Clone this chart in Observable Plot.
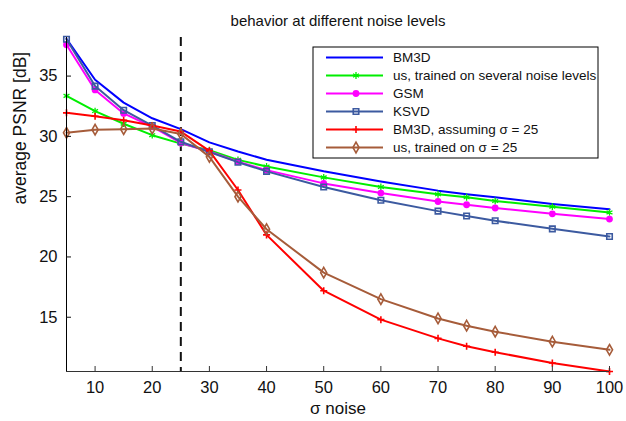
<!DOCTYPE html>
<html>
<head>
<meta charset="utf-8">
<script src="https://cdn.jsdelivr.net/npm/d3@7"></script>
<script src="https://cdn.jsdelivr.net/npm/@observablehq/plot@0.6"></script>
<style>
  html, body { margin: 0; padding: 0; background: #fff; }
  #wrap { position: relative; width: 626px; height: 421px; font-family: "Liberation Sans", Arial, sans-serif; }
  #legend { position: absolute; left: 0; top: 0; }
</style>
</head>
<body>
<div id="wrap"></div>
<script>
const sigma = [5, 10, 15, 20, 25, 30, 35, 40, 50, 60, 70, 75, 80, 90, 100];
const bm3d  = [38.1, 34.7, 32.8, 31.5, 30.6, 29.5, 28.75, 28.06, 27.1, 26.25, 25.5, 25.2, 24.95, 24.4, 23.95];
const usSeveral = [33.36, 32.1, 31.05, 30.1, 29.4, 28.85, 28.05, 27.5, 26.6, 25.8, 25.2, 24.95, 24.64, 24.17, 23.69];
const gsm   = [37.6, 33.85, 31.9, 30.8, 29.45, 28.75, 27.9, 27.2, 26.1, 25.3, 24.6, 24.33, 24.06, 23.58, 23.14];
const ksvd  = [38.06, 34.17, 32.17, 30.9, 29.55, 28.7, 27.86, 27.1, 25.8, 24.7, 23.8, 23.4, 23.0, 22.33, 21.7];
const bm3d25 = [31.95, 31.67, 31.33, 30.9, 30.4, 28.8, 25.55, 21.83, 17.2, 14.8, 13.25, 12.6, 12.1, 11.2, 10.5];
const us25  = [30.3, 30.55, 30.6, 30.65, 30.2, 28.3, 25.0, 22.3, 18.7, 16.5, 14.9, 14.3, 13.8, 12.97, 12.3];

const xTicks = [10, 20, 30, 40, 50, 60, 70, 80, 90, 100];
const yTicks = [15, 20, 25, 30, 35];
const title = "behavior at different noise levels";
const xLabel = "σ noise";
const yLabel = "average PSNR [dB]";
const trainedSigma = 25;

const series = [
  {name: "BM3D", values: bm3d, color: "#0000ff", symbol: null},
  {name: "us, trained on several noise levels", values: usSeveral, color: "#00ee00", symbol: "asterisk", fill: "none", r: 3.2},
  {name: "GSM", values: gsm, color: "#ff00ff", symbol: "circle", fill: "#ff00ff", r: 2.6},
  {name: "KSVD", values: ksvd, color: "#3c5aa0", symbol: "square", fill: "none", r: 3.1},
  {name: "BM3D, assuming σ = 25", values: bm3d25, color: "#ff0000", symbol: "plus", fill: "none", r: 2.4},
  {name: "us, trained on σ = 25", values: us25, color: "#a65c3a", symbol: "diamond", fill: "none", r: 3.2}
];

const rows = series.flatMap(s => s.values.map((v, i) => ({series: s.name, x: sigma[i], y: v})));

const marks = [
  Plot.ruleX([trainedSigma], {stroke: "#111", strokeWidth: 2, strokeDasharray: "9,6"}),
];
for (const s of series) {
  const d = rows.filter(r => r.series === s.name);
  marks.push(Plot.line(d, {x: "x", y: "y", stroke: s.color, strokeWidth: 2}));
  if (s.symbol) {
    marks.push(Plot.dot(d, {x: "x", y: "y", symbol: s.symbol, r: s.r, stroke: s.color, fill: s.fill, strokeWidth: s.symbol === "asterisk" ? 1.3 : 1.6}));
  }
}
marks.push(
  Plot.ruleX([5], {stroke: "#000", strokeWidth: 1}),
  Plot.ruleY([10.5], {stroke: "#333", strokeWidth: 1}),
  Plot.axisX({ticks: xTicks, tickSize: -5, tickPadding: 15, fontSize: 16.5, stroke: "#333", label: null}),
  Plot.axisY({ticks: yTicks, tickSize: -5, tickPadding: 14, fontSize: 16.5, label: null}),
  Plot.text([title], {frameAnchor: "top", dy: -22, fontSize: 15, fill: "#111"}),
  Plot.text([xLabel], {frameAnchor: "bottom", dy: 42.5, fontSize: 17, fill: "#111"}),
  Plot.text([yLabel], {frameAnchor: "left", dx: -46, rotate: -90, fontSize: 17.5, fill: "#111"})
);

const chart = Plot.plot({
  width: 626,
  height: 421,
  marginLeft: 66,
  marginRight: 17,
  marginTop: 37,
  marginBottom: 50,
  style: {fontFamily: "'Liberation Sans', Arial, sans-serif", fontSize: "15px", color: "#111", background: "#fff"},
  x: {domain: [5, 100]},
  y: {domain: [10.5, 38.2]},
  marks
});
document.getElementById("wrap").appendChild(chart);

// Legend overlay
const lg = d3.select("#wrap").append("svg")
  .attr("id", "legend").attr("width", 626).attr("height", 421);
const bx = 313, by = 47, bw = 285, bh = 111;
lg.append("rect").attr("x", bx).attr("y", by).attr("width", bw).attr("height", bh)
  .attr("fill", "#fff").attr("stroke", "#000").attr("stroke-width", 1);
const sym = {asterisk: d3.symbolAsterisk, circle: d3.symbolCircle, square: d3.symbolSquare, plus: d3.symbolPlus, diamond: d3.symbolDiamond};
series.forEach((s, i) => {
  const yy = by + 10.5 + i * 18;
  lg.append("line").attr("x1", bx + 13).attr("x2", bx + 70).attr("y1", yy).attr("y2", yy)
    .attr("stroke", s.color).attr("stroke-width", 2);
  if (s.symbol) {
    const size = Math.PI * s.r * s.r;
    lg.append("path").attr("d", d3.symbol(sym[s.symbol], size)())
      .attr("transform", `translate(${bx + 43},${yy})`)
      .attr("stroke", s.color).attr("fill", s.fill).attr("stroke-width", s.symbol === "asterisk" ? 1.3 : 1.6);
  }
  lg.append("text").attr("x", bx + 80).attr("y", yy).attr("dy", "0.35em")
    .attr("font-size", 13.5).attr("fill", "#111")
    .attr("font-family", "'Liberation Sans', Arial, sans-serif").text(s.name);
});
</script>
</body>
</html>
